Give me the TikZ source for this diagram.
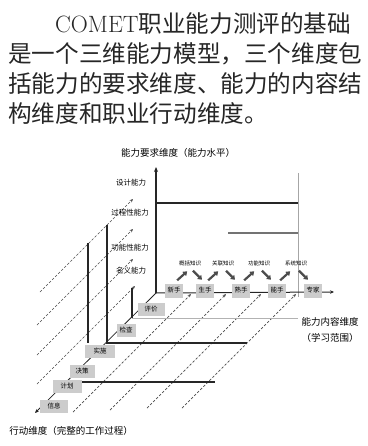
\documentclass[tikz,border=0pt]{standalone}
\usepackage{fontspec}
\newfontfamily\cjk{Noto Sans CJK SC}
\usetikzlibrary{arrows.meta,calc}
\tikzset{
  para/.style={anchor=base west, inner sep=0pt, text=black!85, font=\fontsize{23.6}{28}\selectfont},
  dline/.style={line width=0.7pt, black!70, dash pattern=on 2.5pt off 1.8pt, -{Stealth[length=3.5pt,width=3pt]}},
  cbox/.style={fill=black!20, inner sep=0pt, minimum width=18pt, minimum height=14pt, font=\cjk\fontsize{6.5}{7}\selectfont},
  abox/.style={fill=black!20, inner sep=0pt, minimum height=13pt, font=\cjk\fontsize{6.5}{7}\selectfont},
  lvl/.style={font=\cjk\fontsize{7.5}{8}\selectfont, inner sep=0pt},
  ktxt/.style={font=\cjk\fontsize{5.5}{6}\selectfont, inner sep=0pt},
  axlab/.style={font=\cjk\fontsize{9.5}{11}\selectfont, inner sep=0pt},
  fat/.style={line width=2.2pt, black!70, -{Triangle[length=4pt,width=5.5pt]}},
  plane/.style={line width=1.5pt, black!85},
}
\begin{document}
\begin{tikzpicture}[x=1pt,y=-1pt]
\useasboundingbox (0,0) rectangle (367,446);
% paragraph
\node[para] (l1) at (55,33) {COMET{\cjk 职业能力测评的基础}};
\node[para] (l2) at (8,63) {\cjk 是一个三维能力模型，三个维度包};
\node[para] (l3) at (8,93) {\cjk 括能力的要求维度、能力的内容结};
\node[para] (l4) at (8,123) {\cjk 构维度和职业行动维度。};

% key coordinates
\coordinate (O) at (156,293);
\coordinate (ytop) at (156,167);
\coordinate (xend) at (334,292);
\coordinate (zend) at (35,413);

% dashed depth lines
\coordinate (s1) at (40,292);  \coordinate (e1) at (133,199);
\coordinate (s2) at (37,325);  \coordinate (e2) at (133,229);
\coordinate (s3) at (37,355);  \coordinate (e3) at (133,259);
\coordinate (s4) at (37,384);  \coordinate (e4) at (135,286);
\coordinate (s5) at (73,412);  \coordinate (e5) at (191,294);
\coordinate (s6) at (110,410); \coordinate (e6) at (226,294);
\coordinate (s7) at (147,408); \coordinate (e7) at (261,294);
\coordinate (s8) at (182,408); \coordinate (e8) at (296,294);
\foreach \i in {1,...,8} { \draw[dline] (s\i) -- (e\i); }

% planes
\draw[line width=1.8pt, black!85] (156,203) -- (298,203);
\draw[line width=1.2pt, black!55] (228,233) -- (298,233);
\draw[line width=0.5pt, black!35] (298,173) -- (298,297);
\draw[line width=1.2pt, black!85] (132,288) -- (132,318);
\draw[line width=0.6pt, black!30] (132,318) -- (298,318);
\draw[plane] (107,225) -- (107,343) -- (247,343);
\draw[plane] (88,243) -- (88,343);
\draw[plane] (82,382) -- (215,382);

% axes
\draw[line width=1.6pt, black!85, -{Stealth[length=5pt,width=4pt]}] (O) -- (ytop);
\draw[line width=1pt, black!85, -{Stealth[length=4pt,width=3.5pt]}] (O) -- (xend);
\draw[line width=0.8pt, black!85, -{Stealth[length=4pt,width=3.5pt]}] (O) -- (zend);

% content boxes
\node[cbox] (c1) at (174,290.5) {新手};
\node[cbox] (c2) at (205,290.5) {生手};
\node[cbox] (c3) at (241,290.5) {熟手};
\node[cbox] (c4) at (277,290.5) {能手};
\node[cbox] (c5) at (313,290.5) {专家};

% knowledge labels
\node[ktxt] (k1) at (190,263) {概括知识};
\node[ktxt] (k2) at (223,263) {关联知识};
\node[ktxt] (k3) at (259,263) {功能知识};
\node[ktxt] (k4) at (296,263) {系统知识};
\draw[fat] (c1.north east) ++(-6,-3) -- ++(10,-9);
\draw[fat] (k1.south) ++(3,5) -- ++(9,9);
\draw[fat] (c2.north east) ++(-6,-3) -- ++(10,-9);
\draw[fat] (k2.south) ++(3,5) -- ++(9,9);
\draw[fat] (c3.north east) ++(-6,-3) -- ++(10,-9);
\draw[fat] (k3.south) ++(3,5) -- ++(9,9);
\draw[fat] (c4.north east) ++(-6,-3) -- ++(10,-9);
\draw[fat] (k4.south) ++(3,5) -- ++(9,9);

% requirement levels
\node[lvl] (r4) at (131,183) {设计能力};
\node[lvl] (r3) at (130,213) {过程性能力};
\node[lvl] (r2) at (130,248) {功能性能力};
\node[lvl] (r1) at (131,271) {名义能力};

% action boxes
\node[abox, minimum width=28pt] (a1) at (54,406) {信息};
\node[abox, minimum width=29pt] (a2) at (67,386) {计划};
\node[abox, minimum width=25pt] (a3) at (82,371) {决策};
\node[abox, minimum width=30pt] (a4) at (100,351) {实施};
\node[abox, minimum width=19pt] (a5) at (126,330) {检查};
\node[abox, minimum width=27pt] (a6) at (151,309) {评价};

% axis labels
\node[axlab] (ylab) at (178,153) {能力要求维度（能力水平）};
\node[axlab] (xlab1) at (330,322) {能力内容维度};
\node[axlab] (xlab2) at (330,338) {（学习范围）};
\node[axlab] (zlab) at (71,431) {行动维度（完整的工作过程）};
\end{tikzpicture}
\end{document}
